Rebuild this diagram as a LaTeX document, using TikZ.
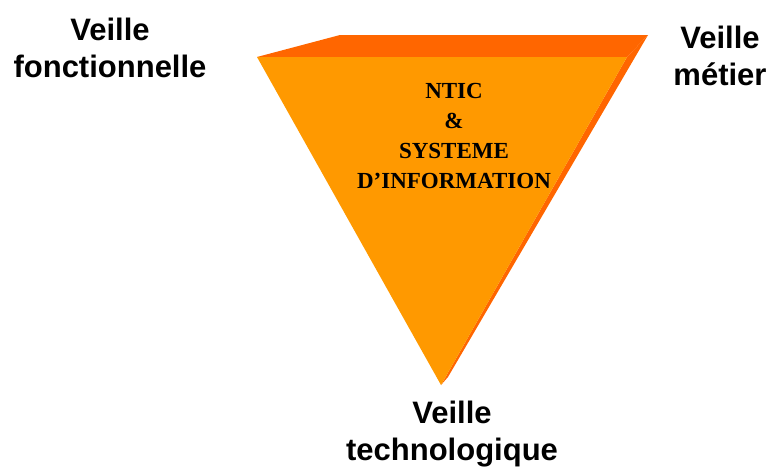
\documentclass[tikz,border=0pt]{standalone}
\usepackage{fontspec}
\setmainfont{Liberation Serif}
\newfontfamily\labelfont{Liberation Sans}
\definecolor{facefront}{HTML}{FF9900}
\definecolor{faceside}{HTML}{FF6600}
\begin{document}
\begin{tikzpicture}[x=1pt,y=-1pt,
  veille/.style={font=\labelfont\bfseries\fontsize{31}{37}\selectfont, align=center, anchor=base, inner sep=0pt},
  inner/.style={font=\bfseries\fontsize{23}{30}\selectfont, align=center, anchor=base, inner sep=0pt}]
  \useasboundingbox (0,0) rectangle (768,466);
  % prism corners
  \coordinate (fl) at (257,57);
  \coordinate (fr) at (627,57);
  \coordinate (fb) at (441,385);
  \coordinate (bl) at (340,35);
  \coordinate (br) at (648,35);
  \coordinate (bb) at (448,377);
  % top and right faces
  \fill[faceside] (fl) -- (bl) -- (br) -- (fr) -- cycle;
  \fill[faceside] (fr) -- (br) -- (bb) -- (fb) -- cycle;
  % front face
  \fill[facefront] (fl) -- (fr) -- (fb) -- cycle;
  % centre text (anchored on its last line)
  \node[inner] (core) at (454,188) {NTIC\\\&\\SYSTEME\\D’INFORMATION};
  % corner labels (anchored on their last line)
  \node[veille] (vf) at (110,77) {Veille\\fonctionnelle};
  \node[veille] (vm) at (720,85) {Veille\\métier};
  \node[veille] (vt) at (452,460) {Veille\\technologique};
\end{tikzpicture}
\end{document}
